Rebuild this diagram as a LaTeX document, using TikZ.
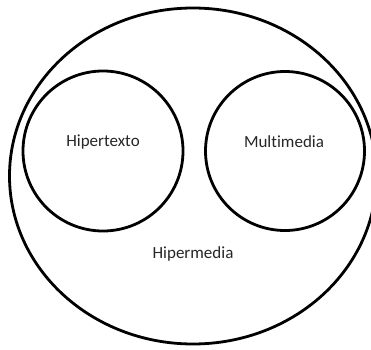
\documentclass[tikz,border=0pt]{standalone}
\usepackage{fontspec}
\setmainfont[Ligatures=NoCommon]{Carlito}
\usetikzlibrary{shapes.geometric}
\begin{document}
\begin{tikzpicture}[x=1pt,y=1pt,
  ring/.style={draw=black, line width=2.8pt, inner sep=0pt},
  label/.style={font=\fontsize{17}{20}\selectfont, text=black!85, inner sep=0pt}]
  \useasboundingbox (0,0) rectangle (371,349);
  \clip (0,0) rectangle (371,349);
  % outer set
  \node[ring, ellipse, minimum width=367pt, minimum height=336pt] (hm) at (193,173) {};
  % the two inner sets
  \node[ring, circle, minimum size=160pt] (ht) at (103,198) {};
  \node[ring, circle, minimum size=159pt] (mm) at (285,198) {};
  % labels
  \node[label] (tht) at (103,207) {Hipertexto};
  \node[label] (tmm) at (284,207) {Multimedia};
  \node[label] (thm) at (193,95) {Hipermedia};
\end{tikzpicture}
\end{document}
